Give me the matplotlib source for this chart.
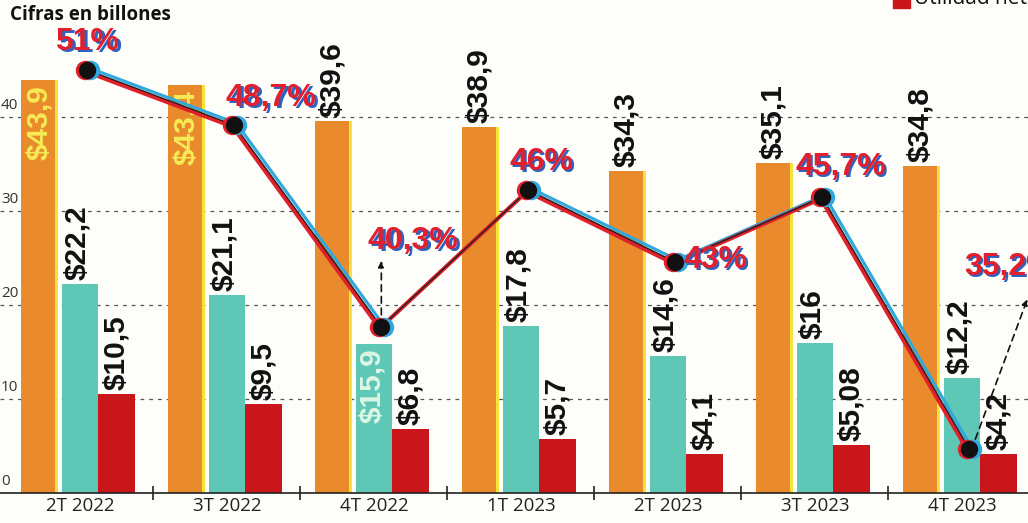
import numpy as np
import matplotlib
matplotlib.use('Agg')
import matplotlib.pyplot as plt
from matplotlib.transforms import offset_copy
from matplotlib.patches import Rectangle

# datos (cifras en billones)
trimestres = ['2T 2022', '3T 2022', '4T 2022', '1T 2023', '2T 2023', '3T 2023', '4T 2023']
ingresos = [43.9, 43.4, 39.6, 38.9, 34.3, 35.1, 34.8]
ebitda = [22.2, 21.1, 15.9, 17.8, 14.6, 16.0, 12.2]
utilidad = [10.5, 9.5, 6.8, 5.7, 4.1, 5.08, 4.2]
margen = [51, 48.7, 40.3, 46, 43, 45.7, 35.2]
lbl_ingresos = ['$43,9', '$43,4', '$39,6', '$38,9', '$34,3', '$35,1', '$34,8']
lbl_ebitda = ['$22,2', '$21,1', '$15,9', '$17,8', '$14,6', '$16', '$12,2']
lbl_utilidad = ['$10,5', '$9,5', '$6,8', '$5,7', '$4,1', '$5,08', '$4,2']
lbl_margen = ['51%', '48,7%', '40,3%', '46%', '43%', '45,7%', '35,2%']
yticks = [0, 10, 20, 30, 40]

naranja = '#e98b2c'
amarillo = '#f5e23a'
verde = '#5ec7b5'
rojo = '#c8161b'
bg = '#fdfdf9'

fig = plt.figure(figsize=(10.28, 5.23), dpi=100, facecolor=bg)
ax = fig.add_axes([0, 30/523, 1, 493/523])
ax.set_facecolor(bg)
x = np.arange(len(trimestres))
w = 0.25

ax.set_xlim(-0.544, 6.449)
ax.set_ylim(0, 493/9.4)

# lineas punteadas
for v in yticks[1:]:
    ax.axhline(v, color='#555555', lw=0.9, ls=(0, (3, 4)), zorder=0)
    ax.text(0.001, v + 0.4, str(v), transform=ax.get_yaxis_transform(),
            fontsize=11, color='#333333', va='bottom', ha='left', family='Open Sans')
ax.text(0.001, 0.4, '0', transform=ax.get_yaxis_transform(),
        fontsize=11, color='#333333', va='bottom', ha='left', family='Open Sans')

# barras
ax.bar(x - 0.275, ingresos, w, color=naranja, zorder=2)
ax.bar(x - 0.275 + w/2 - 0.01, ingresos, 0.02, color=amarillo, zorder=2)
ax.bar(x, ebitda, w, color=verde, zorder=2)
ax.bar(x + 0.25, utilidad, w, color=rojo, zorder=2)

fnt = dict(family=['Liberation Sans', 'DejaVu Sans'], fontweight='bold', fontsize=21.5,
           rotation=90, ha='center')

def etiquetas(xs, vals, lbls, dentro, col_dentro):
    for xi, v, l, d in zip(xs, vals, lbls, dentro):
        if d:
            ax.annotate(l, (xi, v), xytext=(0, -5), textcoords='offset pixels',
                        va='top', color=col_dentro, zorder=4, **fnt)
        else:
            ax.annotate(l, (xi, v), xytext=(-1, 4), textcoords='offset pixels',
                        va='bottom', color='#111111', zorder=4, **fnt)

etiquetas(x - 0.275, ingresos, lbl_ingresos, [True, True, False, False, False, False, False], '#f6ec55')
etiquetas(x - 0.01, ebitda, lbl_ebitda, [False, False, True, False, False, False, False], '#dff6e6')
etiquetas(x + 0.25, utilidad, lbl_utilidad, [False]*7, '#ffffff')

# eje x
for s in ['top', 'right', 'left']:
    ax.spines[s].set_visible(False)
ax.spines['bottom'].set_color('#222222')
ax.spines['bottom'].set_linewidth(1.2)
ax.spines['bottom'].set_zorder(5)
ax.set_yticks([])
ax.set_xticks(x)
ax.set_xticklabels(trimestres, fontsize=13.5, color='#222222', family='Open Sans')
ax.tick_params(axis='x', which='major', length=0, pad=3)
ax.set_xticks(x[:-1] + 0.5, minor=True)
ax.tick_params(axis='x', which='minor', length=10, direction='inout', width=1.2, color='#222222')

# margen
ax2 = ax.twinx()
ax2.set_ylim((1294 - 493)/24, 1294/24)
ax2.axis('off')
xm = x + 0.05
t_azul = offset_copy(ax2.transData, fig=fig, x=2, y=2, units='dots')
t_rojo = offset_copy(ax2.transData, fig=fig, x=-1.5, y=-1.5, units='dots')
ax2.plot(xm, margen, color='#2fa8e0', lw=2.2, transform=t_azul, zorder=5)
ax2.plot(xm, margen, color='#e2202a', lw=3, transform=t_rojo, zorder=5)
ax2.plot(xm, margen, color='#222222', lw=1.0, zorder=6)
ax2.plot(xm, margen, 'o', color='#2fa8e0', ms=13, transform=offset_copy(ax2.transData, fig=fig, x=2.5, y=0, units='dots'), zorder=7)
ax2.plot(xm, margen, 'o', color='#e2202a', ms=13, transform=offset_copy(ax2.transData, fig=fig, x=-2, y=0, units='dots'), zorder=7)
ax2.plot(xm, margen, 'o', color='#111111', ms=11.5, zorder=8)

offs = [(0, 28), (37, 27), (32, 86), (13, 28), (40, 2), (18, 30), (40, 182)]
pfnt = dict(family=['Liberation Sans', 'DejaVu Sans'], fontweight='bold', fontsize=23,
            ha='center', va='center', textcoords='offset pixels', zorder=9)
for xi, m, l, (dx, dy) in zip(xm, margen, lbl_margen, offs):
    ax2.annotate(l, (xi, m), xytext=(dx + 2.5, dy - 2), color='#2b64c0', **pfnt)
    ax2.annotate(l, (xi, m), xytext=(dx, dy), color='#e41f2d', **pfnt)

# flechas punteadas
flechas = [(2, (0, 12), (0, 66)), (6, (6, 10), (58, 150))]
for i, (tx, ty), (hx, hy) in flechas:
    ax2.annotate('', xy=(xm[i], margen[i]), xytext=(xm[i], margen[i]),
                 xycoords=offset_copy(ax2.transData, fig=fig, x=hx, y=hy, units='dots'),
                 textcoords=offset_copy(ax2.transData, fig=fig, x=tx, y=ty, units='dots'),
                 arrowprops=dict(arrowstyle='-|>', ls=(0, (4, 3)), color='#111111', lw=1.2,
                                 mutation_scale=9, shrinkA=0, shrinkB=0), zorder=9)

# titulo y leyenda
fig.text(10/1028, 1 - 15/523, 'Cifras en billones', fontsize=13.5, fontweight='bold',
         family='Open Sans', color='#111111', va='center', ha='left')
fig.patches.append(Rectangle((893/1028, 1 - 8/523), 17/1028, 17/523, color=rojo,
                             transform=fig.transFigure, figure=fig))
fig.text(914/1028, 1 + 2/523, 'Utilidad neta', fontsize=15, family='Open Sans',
         color='#111111', va='center', ha='left')

plt.savefig('out.png', dpi=100, facecolor=bg)
